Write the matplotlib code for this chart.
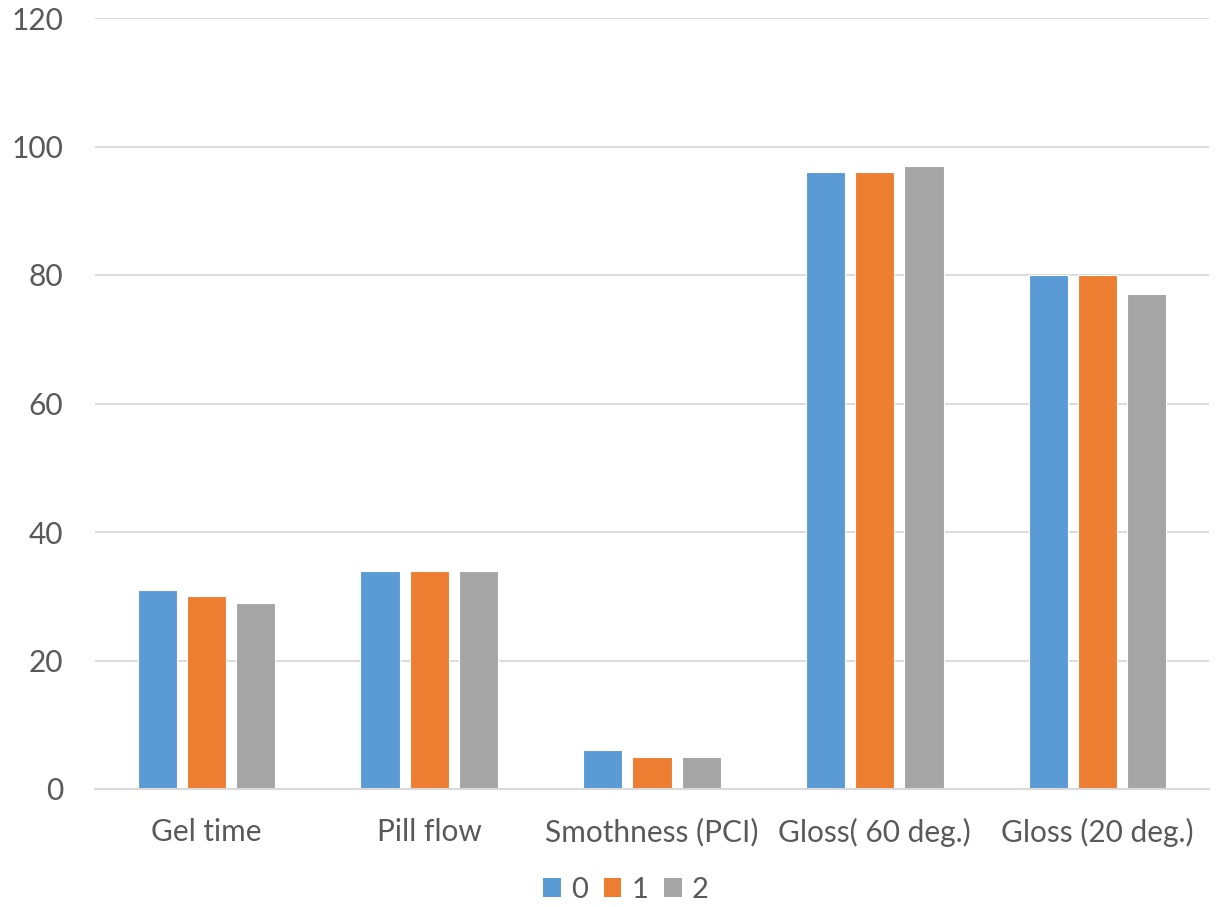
import matplotlib.pyplot as plt
import numpy as np
from matplotlib.patches import Patch

# test results per property, one series per level
categories = ['Gel time', 'Pill flow', 'Smothness (PCI)', 'Gloss( 60 deg.)', 'Gloss (20 deg.)']
series_names = ['0', '1', '2']
level0 = [31, 34, 6, 96, 80]
level1 = [30, 34, 5, 96, 80]
level2 = [29, 34, 5, 97, 77]
yticks = [0, 20, 40, 60, 80, 100, 120]

colors = ['#5B9BD5', '#ED7D31', '#A5A5A5']
text_color = '#595959'
grid_color = '#D9D9D9'

plt.rcParams['font.family'] = ['Lato', 'DejaVu Sans']

fig = plt.figure(figsize=(12.23, 9.07), dpi=100)
ax = fig.add_axes([95 / 1223, 1 - 789 / 907, 1114 / 1223, 771 / 907])

x = np.arange(len(categories))
width = 0.176
step = 0.221
for i, vals in enumerate([level0, level1, level2]):
    ax.bar(x + (i - 1) * step, vals, width, color=colors[i],
           edgecolor='white', linewidth=0.8, zorder=3)

ax.set_xlim(-0.5, len(categories) - 0.5)
ax.set_ylim(0, 120)
ax.set_yticks(yticks)
ax.set_xticks(x)
ax.set_xticklabels(categories)
ax.tick_params(axis='both', length=0, labelsize=21.5, colors=text_color)
ax.tick_params(axis='x', pad=21)
ax.tick_params(axis='y', pad=23)

ax.grid(axis='y', color=grid_color, linewidth=1.3, zorder=0)
for side in ['top', 'right', 'left']:
    ax.spines[side].set_visible(False)
ax.spines['bottom'].set_color(grid_color)
ax.spines['bottom'].set_linewidth(1.5)
ax.spines['bottom'].set_zorder(4)

handles = [Patch(facecolor=c, edgecolor='none') for c in colors]
fig.legend(handles, series_names, loc='center', bbox_to_anchor=(626 / 1223, 1 - 890 / 907),
           ncol=3, frameon=False, fontsize=21, labelcolor=text_color,
           handlelength=0.6, handleheight=0.6, handletextpad=0.35, columnspacing=0.55)

fig.savefig('out.png', dpi=100)
